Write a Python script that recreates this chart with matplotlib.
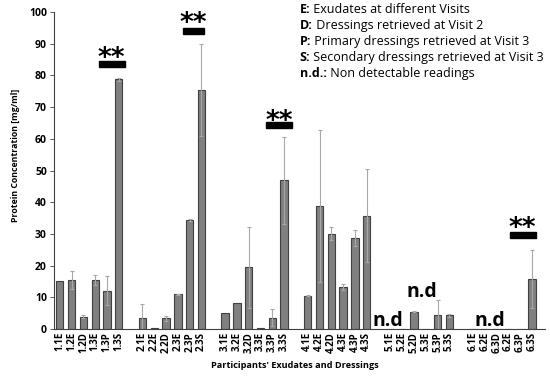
import matplotlib
matplotlib.use("Agg")
import matplotlib.pyplot as plt
from matplotlib.patches import Rectangle

categories = ["1.1E", "1.2E", "1.2D", "1.3E", "1.3P", "1.3S",
              "2.1E", "2.2E", "2.2D", "2.3E", "2.3P", "2.3S",
              "3.1E", "3.2E", "3.2D", "3.3E", "3.3P", "3.3S",
              "4.1E", "4.2E", "4.2D", "4.3E", "4.3P", "4.3S",
              "5.1E", "5.2E", "5.2D", "5.3E", "5.3P", "5.3S",
              "6.1E", "6.2E", "6.3D", "6.2E", "6.3P", "6.3S"]
values = [15.3, 15.5, 3.9, 15.4, 12.1, 78.8,
          3.6, 0.3, 3.4, 11.0, 34.4, 75.4,
          5.2, 8.2, 19.5, 0.3, 3.6, 47.0,
          10.6, 38.9, 30.1, 13.3, 28.8, 35.8,
          0.0, 0.0, 5.5, 0.0, 4.3, 4.4,
          0.0, 0.0, 0.0, 0.0, 0.0, 15.9]
errors = [0.0, 2.8, 0.5, 1.6, 4.6, 0.5,
          4.4, 0.0, 0.7, 0.1, 0.2, 14.4,
          0.0, 0.0, 12.7, 0.0, 2.7, 13.7,
          0.1, 24.0, 2.1, 0.9, 2.6, 14.6,
          0.0, 0.0, 0.1, 0.0, 5.0, 0.5,
          0.0, 0.0, 0.0, 0.0, 0.0, 9.1]
legend_lines = [("E:", " Exudates at different Visits"),
                ("D:", " Dressings retrieved at Visit 2"),
                ("P:", " Primary dressings retrieved at Visit 3"),
                ("S:", " Secondary dressings retrieved at Visit 3"),
                ("n.d.:", " Non detectable readings")]

group_size = 6
positions = [(i // group_size) * (group_size + 1) + (i % group_size) for i in range(len(categories))]

fig = plt.figure(figsize=(5.5, 3.77), dpi=100)
ax = fig.add_axes([0.098, 0.127, 0.893, 0.841])

ax.bar(positions, values, width=0.62, color="#808080", edgecolor="#404040", linewidth=0.8, zorder=2)
ax.errorbar(positions, values, yerr=[e if e > 0 else float("nan") for e in errors], fmt="none",
            ecolor="#a8a8a8", elinewidth=0.8, capsize=1.2, capthick=0.8, zorder=3)

ax.set_xlim(-0.5, 41.1)
ax.set_ylim(0, 100)
ax.set_yticks(range(0, 101, 10))
ax.set_xticks(positions)
ax.set_xticklabels(categories, rotation=90, fontsize=7, fontweight="bold", family="Open Sans")
for lbl in ax.get_yticklabels():
    lbl.set_fontweight("bold")
    lbl.set_family("Open Sans")
    lbl.set_fontsize(7.5)
ax.tick_params(axis="x", length=0, pad=2)
ax.tick_params(axis="y", length=3, width=0.6, color="#404040", pad=2)
for s in ["top", "right"]:
    ax.spines[s].set_visible(False)
for s in ["left", "bottom"]:
    ax.spines[s].set_color("#404040")
    ax.spines[s].set_linewidth(0.8)

ax.set_ylabel("Protein Concentration [mg/ml]", fontsize=6.3, fontweight="bold", family="Open Sans")
ax.yaxis.label.set_va("center")
ax.yaxis.set_label_coords(-0.079, 0.549)
ax.set_xlabel("Participants' Exudates and Dressings", fontsize=6.6, fontweight="bold", family="Open Sans")
ax.xaxis.label.set_va("center")
ax.xaxis.set_label_coords(0.491, -0.114)

# significance markers: (x0, x1, bar bottom, star centre)
sig = [(3.3, 5.5, 82.6, 87.5), (10.4, 12.2, 93.0, 98.5), (17.5, 19.7, 63.4, 67.7), (38.1, 40.3, 28.6, 33.9)]
for x0, x1, y0, yc in sig:
    ax.add_patch(Rectangle((x0, y0), x1 - x0, 2.0, color="black", zorder=4, clip_on=False))
    ax.text((x0 + x1) / 2, yc - 4.6, "**", ha="center", va="baseline", fontsize=19, fontweight="bold",
            family="DejaVu Sans", zorder=4, clip_on=False)

# n.d labels
for xc, yb in [(27.8, 1.0), (30.7, 10.1), (36.4, 1.0)]:
    ax.text(xc, yb, "n.d", ha="center", va="baseline", fontsize=14, fontweight="bold", family="Open Sans")

# legend text
y = 0.976
for key, desc in legend_lines:
    t = fig.text(0.545, y, key, fontsize=9, fontweight="bold", family="Open Sans", va="center", ha="left")
    fig.canvas.draw()
    bb = t.get_window_extent()
    fig.text(bb.x1 / fig.bbox.width, y, desc, fontsize=9, family="Open Sans", va="center", ha="left")
    y -= 0.043

fig.savefig("out.png", dpi=100)
